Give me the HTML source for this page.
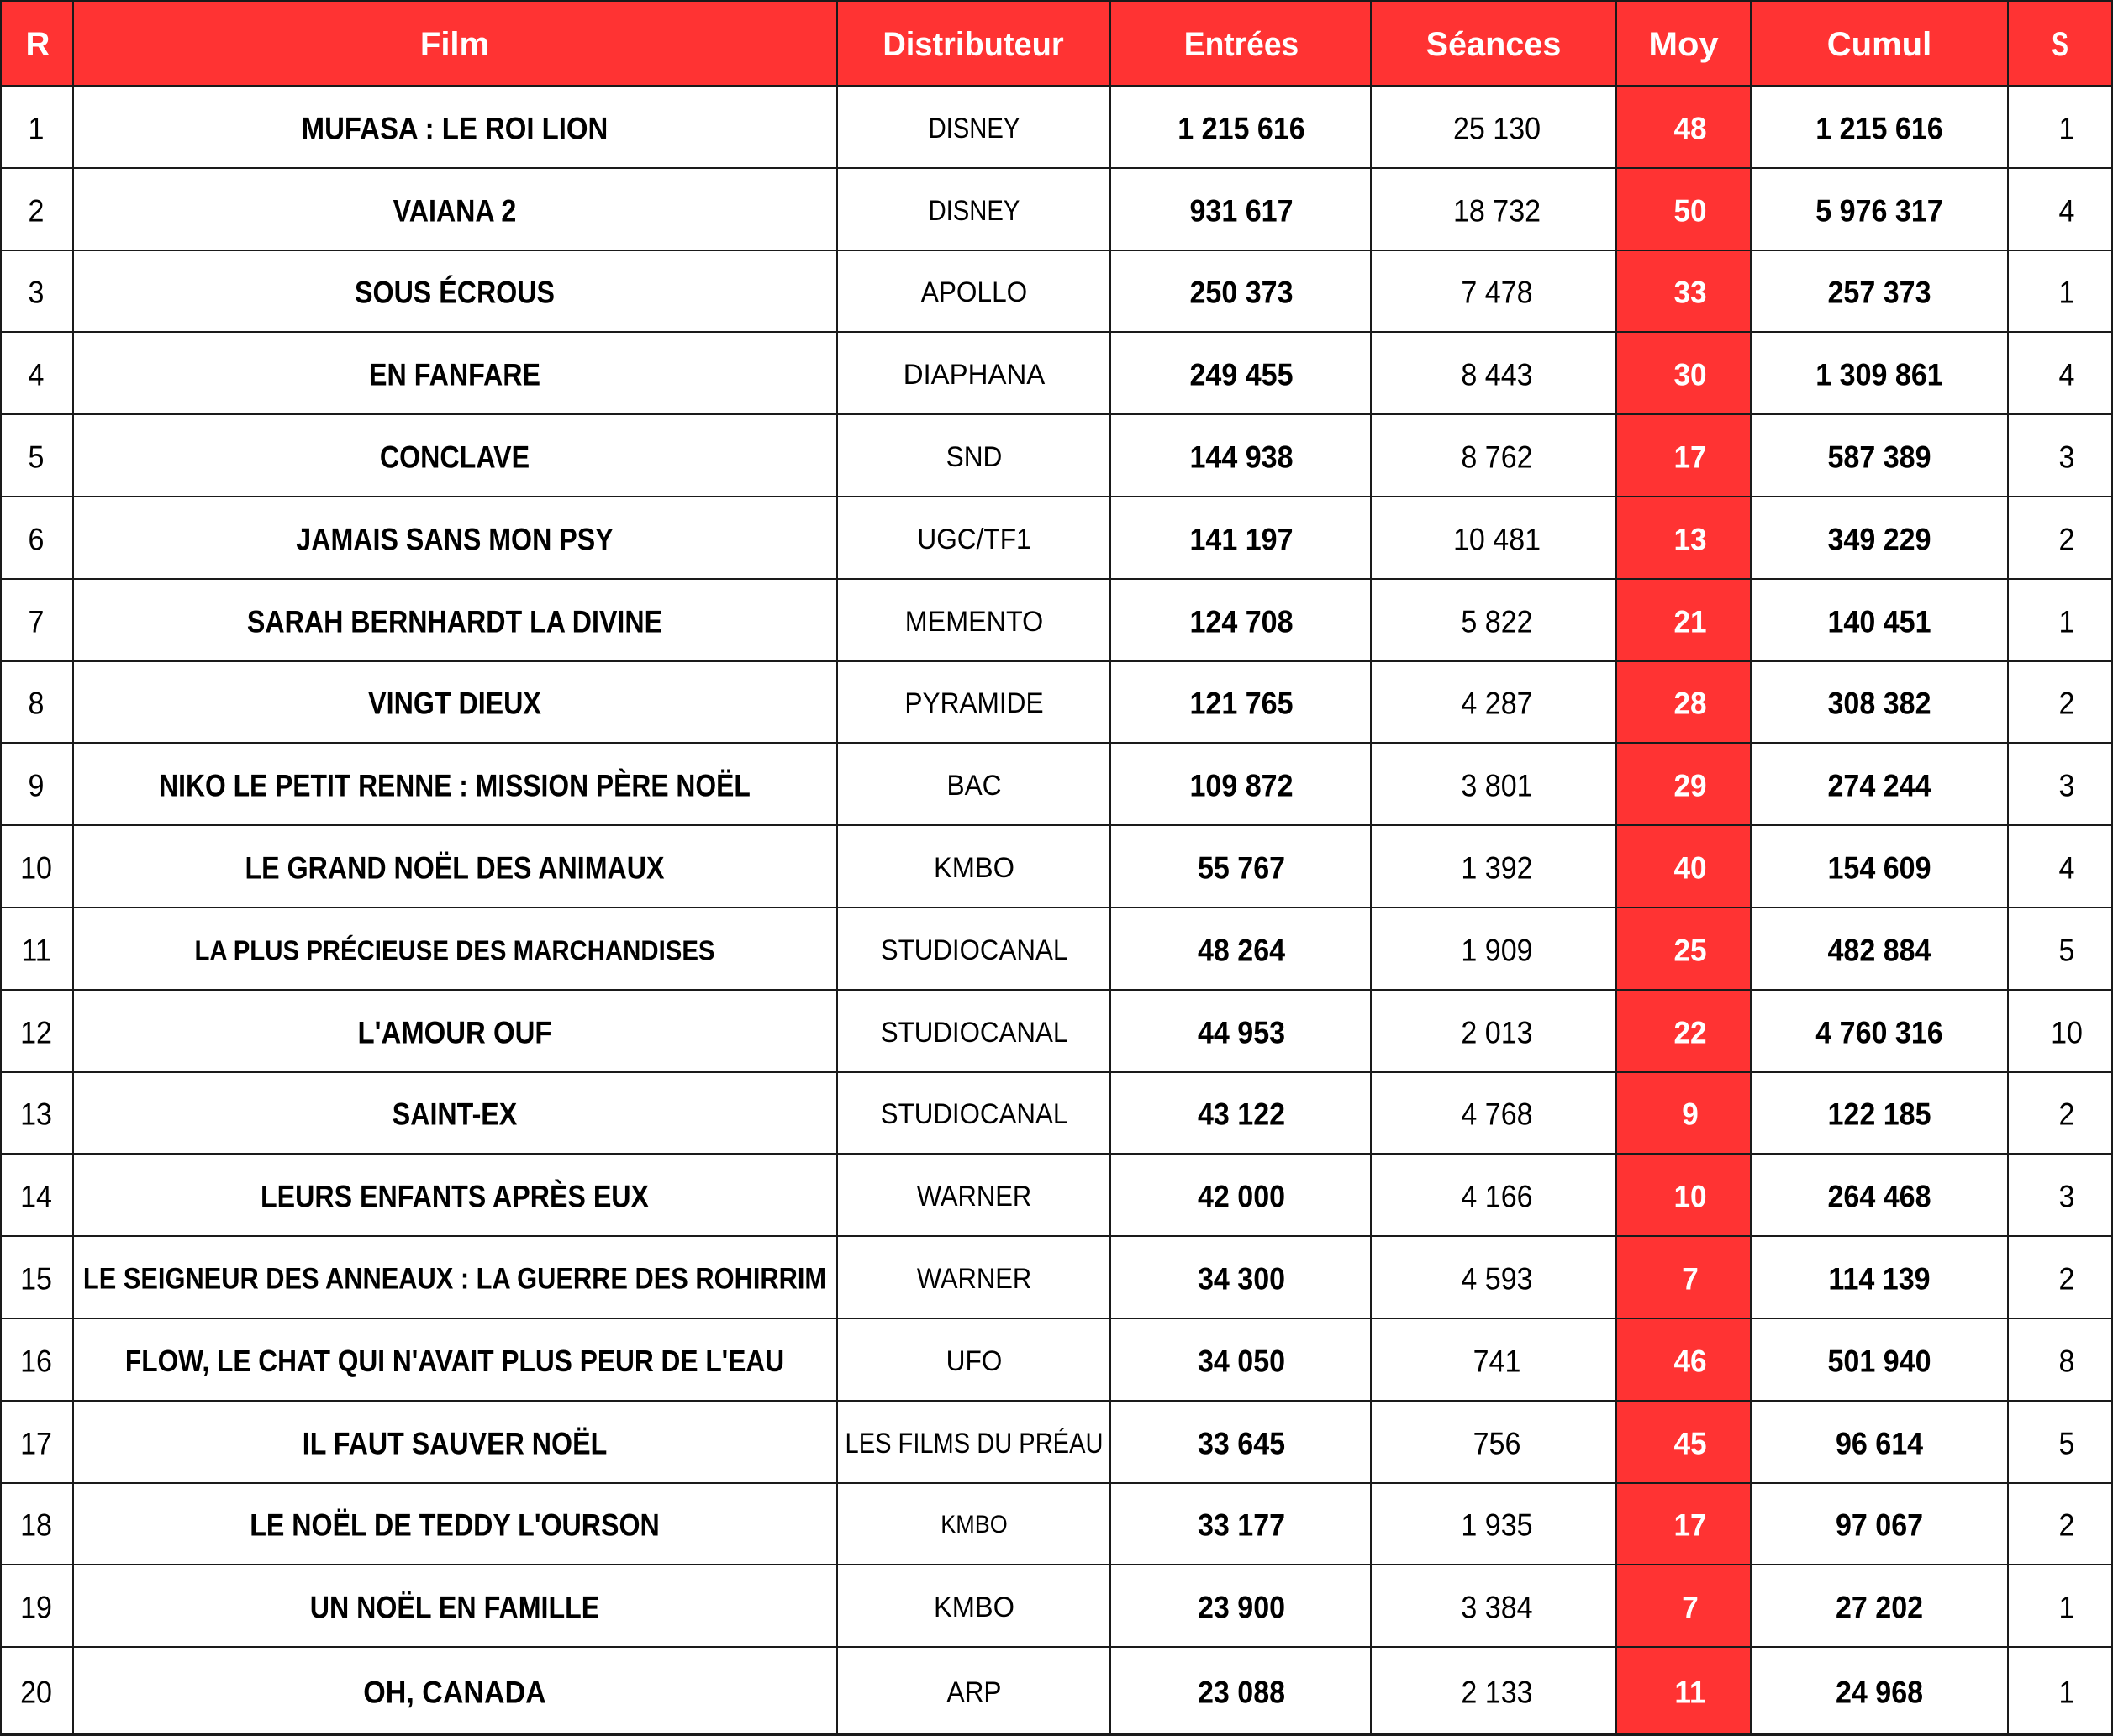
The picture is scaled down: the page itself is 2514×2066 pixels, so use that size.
<!DOCTYPE html>
<html>
<head>
<meta charset="utf-8">
<style>
html,body{margin:0;padding:0}
body{width:2514px;height:2066px;position:relative;background:#fff;overflow:hidden;font-family:"Liberation Sans",sans-serif;color:#000}
.hdr{position:absolute;left:0;top:0;width:2514px;height:101px;background:#ff3333}
.moy{position:absolute;left:1922px;top:0;width:162px;height:2064px;background:#ff3333}
.h{position:absolute;left:0;width:2514px;height:2px;background:#1a1a1a}
.v{position:absolute;top:0;width:2px;height:2066px;background:#1a1a1a}
.row{position:absolute;left:0;width:2514px}
.c{position:absolute;top:calc(50% + 2.5px);white-space:nowrap;line-height:1;font-size:37px;transform:translate(-50%,-50%) scaleX(var(--s,.92))}
.hc{color:#fff;font-weight:bold;font-size:40px;top:calc(50% + 2px)}
.r{left:43px;--s:.92}
.f{left:541px;font-weight:bold;--s:.87}
.d{left:1159px;font-size:34px;--s:.93}
.e{left:1477px;font-weight:bold;--s:.92}
.s{left:1781px;--s:.92}
.m{left:2011px;font-weight:bold;color:#fff;--s:.95}
.u{left:2236px;font-weight:bold;--s:.92}
.w{left:2459px;--s:.92}
</style>
</head>
<body>
<div class="hdr"></div>
<div class="moy"></div>

<div class="row" style="top:0;height:101px">
<div class="c hc" style="left:45px;--s:1">R</div>
<div class="c hc" style="left:541px;--s:1">Film</div>
<div class="c hc" style="left:1158px;--s:.95">Distributeur</div>
<div class="c hc" style="left:1477px;--s:.93">Entrées</div>
<div class="c hc" style="left:1777px;--s:.99">Séances</div>
<div class="c hc" style="left:2003px;--s:1.04">Moy</div>
<div class="c hc" style="left:2236px;--s:1">Cumul</div>
<div class="c hc" style="left:2451px;--s:.75">S</div>
</div>

<div class="row" style="top:101px;height:98px">
<div class="c r">1</div><div class="c f" style="--s:.89">MUFASA : LE ROI LION</div><div class="c d" style="--s:.86">DISNEY</div><div class="c e">1 215 616</div><div class="c s">25 130</div><div class="c m">48</div><div class="c u">1 215 616</div><div class="c w">1</div>
</div>
<div class="row" style="top:199px;height:98px">
<div class="c r">2</div><div class="c f">VAIANA 2</div><div class="c d" style="--s:.86">DISNEY</div><div class="c e">931 617</div><div class="c s">18 732</div><div class="c m">50</div><div class="c u">5 976 317</div><div class="c w">4</div>
</div>
<div class="row" style="top:297px;height:97px">
<div class="c r">3</div><div class="c f">SOUS ÉCROUS</div><div class="c d">APOLLO</div><div class="c e">250 373</div><div class="c s">7 478</div><div class="c m">33</div><div class="c u">257 373</div><div class="c w">1</div>
</div>
<div class="row" style="top:394px;height:98px">
<div class="c r">4</div><div class="c f">EN FANFARE</div><div class="c d" style="--s:.97">DIAPHANA</div><div class="c e">249 455</div><div class="c s">8 443</div><div class="c m">30</div><div class="c u">1 309 861</div><div class="c w">4</div>
</div>
<div class="row" style="top:492px;height:98px">
<div class="c r">5</div><div class="c f">CONCLAVE</div><div class="c d">SND</div><div class="c e">144 938</div><div class="c s">8 762</div><div class="c m">17</div><div class="c u">587 389</div><div class="c w">3</div>
</div>
<div class="row" style="top:590px;height:98px">
<div class="c r">6</div><div class="c f">JAMAIS SANS MON PSY</div><div class="c d">UGC/TF1</div><div class="c e">141 197</div><div class="c s">10 481</div><div class="c m">13</div><div class="c u">349 229</div><div class="c w">2</div>
</div>
<div class="row" style="top:688px;height:98px">
<div class="c r">7</div><div class="c f">SARAH BERNHARDT LA DIVINE</div><div class="c d" style="--s:.95">MEMENTO</div><div class="c e">124 708</div><div class="c s">5 822</div><div class="c m">21</div><div class="c u">140 451</div><div class="c w">1</div>
</div>
<div class="row" style="top:786px;height:97px">
<div class="c r">8</div><div class="c f">VINGT DIEUX</div><div class="c d">PYRAMIDE</div><div class="c e">121 765</div><div class="c s">4 287</div><div class="c m">28</div><div class="c u">308 382</div><div class="c w">2</div>
</div>
<div class="row" style="top:883px;height:98px">
<div class="c r">9</div><div class="c f" style="--s:.86">NIKO LE PETIT RENNE : MISSION PÈRE NOËL</div><div class="c d">BAC</div><div class="c e">109 872</div><div class="c s">3 801</div><div class="c m">29</div><div class="c u">274 244</div><div class="c w">3</div>
</div>
<div class="row" style="top:981px;height:98px">
<div class="c r">10</div><div class="c f">LE GRAND NOËL DES ANIMAUX</div><div class="c d" style="--s:.96">KMBO</div><div class="c e">55 767</div><div class="c s">1 392</div><div class="c m">40</div><div class="c u">154 609</div><div class="c w">4</div>
</div>
<div class="row" style="top:1079px;height:98px">
<div class="c r">11</div><div class="c f" style="font-size:33px;--s:.89">LA PLUS PRÉCIEUSE DES MARCHANDISES</div><div class="c d" style="--s:.92">STUDIOCANAL</div><div class="c e">48 264</div><div class="c s">1 909</div><div class="c m">25</div><div class="c u">482 884</div><div class="c w">5</div>
</div>
<div class="row" style="top:1177px;height:98px">
<div class="c r">12</div><div class="c f" style="--s:.89">L'AMOUR OUF</div><div class="c d" style="--s:.92">STUDIOCANAL</div><div class="c e">44 953</div><div class="c s">2 013</div><div class="c m">22</div><div class="c u">4 760 316</div><div class="c w">10</div>
</div>
<div class="row" style="top:1275px;height:97px">
<div class="c r">13</div><div class="c f">SAINT-EX</div><div class="c d" style="--s:.92">STUDIOCANAL</div><div class="c e">43 122</div><div class="c s">4 768</div><div class="c m">9</div><div class="c u">122 185</div><div class="c w">2</div>
</div>
<div class="row" style="top:1372px;height:98px">
<div class="c r">14</div><div class="c f">LEURS ENFANTS APRÈS EUX</div><div class="c d" style="--s:.91">WARNER</div><div class="c e">42 000</div><div class="c s">4 166</div><div class="c m">10</div><div class="c u">264 468</div><div class="c w">3</div>
</div>
<div class="row" style="top:1470px;height:98px">
<div class="c r">15</div><div class="c f" style="font-size:35px;--s:.88">LE SEIGNEUR DES ANNEAUX : LA GUERRE DES ROHIRRIM</div><div class="c d" style="--s:.91">WARNER</div><div class="c e">34 300</div><div class="c s">4 593</div><div class="c m">7</div><div class="c u">114 139</div><div class="c w">2</div>
</div>
<div class="row" style="top:1568px;height:98px">
<div class="c r">16</div><div class="c f" style="font-size:36px;--s:.88">FLOW, LE CHAT QUI N'AVAIT PLUS PEUR DE L'EAU</div><div class="c d">UFO</div><div class="c e">34 050</div><div class="c s">741</div><div class="c m">46</div><div class="c u">501 940</div><div class="c w">8</div>
</div>
<div class="row" style="top:1666px;height:98px">
<div class="c r">17</div><div class="c f">IL FAUT SAUVER NOËL</div><div class="c d" style="--s:.855">LES FILMS DU PRÉAU</div><div class="c e">33 645</div><div class="c s">756</div><div class="c m">45</div><div class="c u">96 614</div><div class="c w">5</div>
</div>
<div class="row" style="top:1764px;height:97px">
<div class="c r">18</div><div class="c f">LE NOËL DE TEDDY L'OURSON</div><div class="c d" style="font-size:30px;--s:.9">KMBO</div><div class="c e">33 177</div><div class="c s">1 935</div><div class="c m">17</div><div class="c u">97 067</div><div class="c w">2</div>
</div>
<div class="row" style="top:1861px;height:98px">
<div class="c r">19</div><div class="c f">UN NOËL EN FAMILLE</div><div class="c d" style="--s:.96">KMBO</div><div class="c e">23 900</div><div class="c s">3 384</div><div class="c m">7</div><div class="c u">27 202</div><div class="c w">1</div>
</div>
<div class="row" style="top:1959px;height:105px">
<div class="c r">20</div><div class="c f" style="--s:.92">OH, CANADA</div><div class="c d">ARP</div><div class="c e">23 088</div><div class="c s">2 133</div><div class="c m">11</div><div class="c u">24 968</div><div class="c w">1</div>
</div>

<!-- horizontal lines -->
<div class="h" style="top:0"></div>
<div class="h" style="top:101px"></div>
<div class="h" style="top:199px"></div>
<div class="h" style="top:297px"></div>
<div class="h" style="top:394px"></div>
<div class="h" style="top:492px"></div>
<div class="h" style="top:590px"></div>
<div class="h" style="top:688px"></div>
<div class="h" style="top:786px"></div>
<div class="h" style="top:883px"></div>
<div class="h" style="top:981px"></div>
<div class="h" style="top:1079px"></div>
<div class="h" style="top:1177px"></div>
<div class="h" style="top:1275px"></div>
<div class="h" style="top:1372px"></div>
<div class="h" style="top:1470px"></div>
<div class="h" style="top:1568px"></div>
<div class="h" style="top:1666px"></div>
<div class="h" style="top:1764px"></div>
<div class="h" style="top:1861px"></div>
<div class="h" style="top:1959px"></div>
<div class="h" style="top:2063px;height:3px"></div>

<!-- vertical lines -->
<div class="v" style="left:0"></div>
<div class="v" style="left:86px"></div>
<div class="v" style="left:995px"></div>
<div class="v" style="left:1320px"></div>
<div class="v" style="left:1630px"></div>
<div class="v" style="left:1922px"></div>
<div class="v" style="left:2082px"></div>
<div class="v" style="left:2388px"></div>
<div class="v" style="left:2512px"></div>
</body>
</html>
